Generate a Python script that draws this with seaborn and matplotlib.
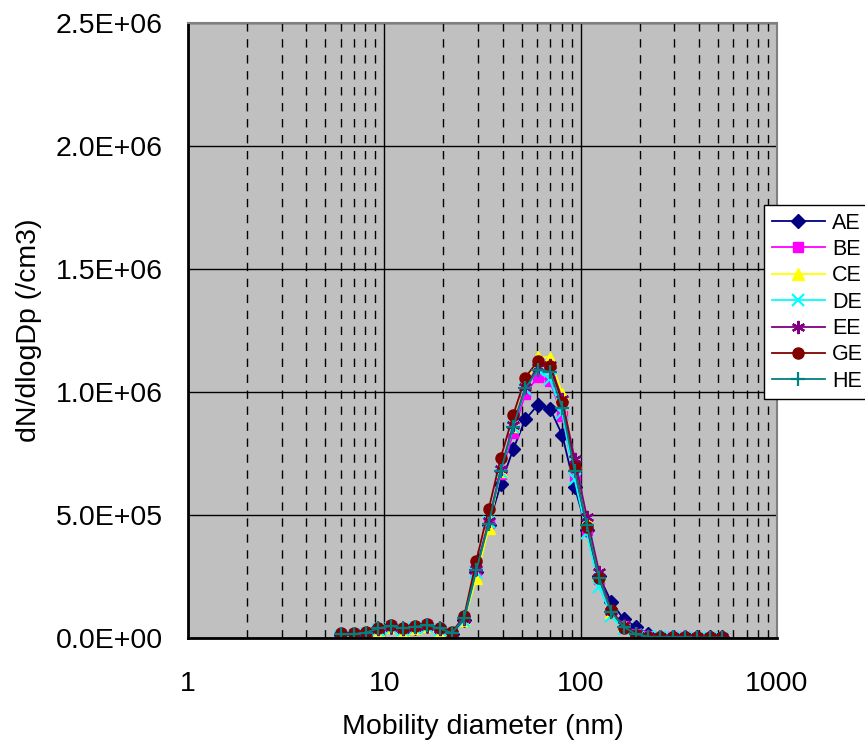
import numpy as np
import pandas as pd
import matplotlib
matplotlib.use('Agg')
import matplotlib.pyplot as plt
import seaborn as sns
from matplotlib.ticker import FuncFormatter, LogLocator, NullFormatter

# SMPS channel mid-point diameters (nm)
diameter = [6.04, 6.98, 8.06, 9.31, 10.8, 12.4, 14.3, 16.5, 19.1, 22.1, 25.5,
            29.4, 34.0, 39.2, 45.3, 52.3, 60.4, 69.8, 80.6, 93.1, 107.5, 124.1,
            143.3, 165.5, 191.1, 220.7, 254.8, 294.3, 339.8, 392.4, 453.2, 523.3]

# dN/dlogDp (/cm3) for each run
AE = [12000, 14000, 20000, 36000, 46000, 36000, 42000, 49000, 36000, 18000, 75000,
      270000, 460000, 625000, 766000, 888000, 946000, 932000, 824000, 614000, 440000, 250000,
      147000, 76000, 46000, 15000, 5000, 4000, 4000, 3000, 3000, 3000]
BE = [14000, 15000, 22000, 38000, 48000, 38000, 45000, 51000, 38000, 19000, 80000,
      276000, 468000, 665000, 832000, 993000, 1060000, 1045000, 900000, 660000, 440000, 240000,
      100000, 50000, 18000, 8000, 4000, 3000, 3000, 2000, 2000, 2000]
CE = [10000, 11000, 18000, 34000, 44000, 34000, 41000, 47000, 34000, 15000, 72000,
      242000, 445000, 680000, 860000, 1030000, 1142000, 1139000, 993000, 715000, 480000, 255000,
      105000, 52000, 20000, 8000, 4000, 3000, 2000, 2000, 2000, 2000]
DE = [9000, 10000, 17000, 32000, 42000, 33000, 39000, 45000, 32000, 14000, 70000,
      270000, 470000, 675000, 858000, 1013000, 1090000, 1050000, 914000, 645000, 425000, 208000,
      90000, 35000, 12000, 5000, 3000, 2000, 2000, 2000, 1000, 1000]
EE = [12000, 13000, 20000, 35000, 46000, 36000, 43000, 49000, 36000, 17000, 78000,
      280000, 475000, 685000, 865000, 1020000, 1100000, 1110000, 970000, 729000, 492000, 269000,
      110000, 52000, 20000, 9000, 5000, 4000, 3000, 3000, 3000, 3000]
GE = [19000, 19000, 26000, 42000, 53000, 42000, 49000, 56000, 42000, 23000, 89000,
      314000, 523000, 733000, 905000, 1058000, 1125000, 1104000, 959000, 695000, 452000, 242000,
      112000, 40000, 12000, 6000, 4000, 4000, 4000, 4000, 4000, 4000]
HE = [15000, 16000, 22000, 39000, 49000, 39000, 46000, 52000, 39000, 20000, 82000,
      275000, 465000, 680000, 858000, 1015000, 1090000, 1081000, 935000, 680000, 460000, 245000,
      105000, 45000, 16000, 6000, 3000, 3000, 3000, 2000, 2000, 2000]

runs = ['AE', 'BE', 'CE', 'DE', 'EE', 'GE', 'HE']
series = [AE, BE, CE, DE, EE, GE, HE]
colors = ['#000080', '#FF00FF', '#FFFF00', '#00FFFF', '#800080', '#800000', '#008080']
markers = ['D', 's', '^', 'x', (6, 2, 0), 'o', '+']
msizes = [7, 7, 8, 8.5, 9.5, 8, 10.5]

rows = []
for name, vals in zip(runs, series):
    for d, v in zip(diameter, vals):
        rows.append({'run': name, 'Dp': d, 'dN': v})
df = pd.DataFrame(rows)

plt.rcParams['font.family'] = ['Liberation Sans', 'DejaVu Sans']

fig = plt.figure(figsize=(8.65, 7.42), dpi=100)
ax = fig.add_axes([188 / 865, 1 - 638 / 742, (777 - 188) / 865, (638 - 22.5) / 742])
ax.set_facecolor('#C0C0C0')

for name, c, m, ms in zip(runs, colors, markers, msizes):
    sub = df[df['run'] == name]
    sns.lineplot(data=sub, x='Dp', y='dN', ax=ax, color=c, marker=m, markersize=ms,
                 markeredgecolor=c, markerfacecolor=c, markeredgewidth=1.6 if m in ['x', '+', (6, 2, 0)] else 1,
                 linewidth=1.3, label=name, sort=False, errorbar=None)

ax.set_xscale('log')
ax.set_xlim(1, 1000)
ax.set_ylim(0, 2.5e6)
ax.set_yticks(np.arange(0, 2.51e6, 0.5e6))
ax.yaxis.set_major_formatter(FuncFormatter(lambda v, p: f'{v:.1E}'))
ax.set_xticks([1, 10, 100, 1000])
ax.xaxis.set_major_formatter(FuncFormatter(lambda v, p: f'{v:g}'))
ax.xaxis.set_minor_locator(LogLocator(base=10, subs=np.arange(2, 10)))
ax.xaxis.set_minor_formatter(NullFormatter())

ax.grid(True, which='major', axis='both', color='black', linewidth=1)
ax.grid(True, which='minor', axis='x', color='black', linewidth=1, linestyle=(0, (6, 5.5)))
ax.set_axisbelow(True)

ax.tick_params(axis='both', which='both', length=0, labelsize=20.5)
ax.tick_params(axis='y', pad=18)
ax.tick_params(axis='x', pad=24)

for side in ['top', 'right']:
    ax.spines[side].set_color('#808080')
    ax.spines[side].set_linewidth(1.5)
for side in ['left', 'bottom']:
    ax.spines[side].set_color('black')
    ax.spines[side].set_linewidth(2)

ax.set_xlabel('Mobility diameter (nm)', fontsize=20.5, labelpad=12)
ax.set_ylabel('dN/dlogDp (/cm3)', fontsize=20.5, labelpad=10)

leg = ax.legend(loc='upper left', bbox_to_anchor=(764 / 865, 1 - 205 / 742),
                bbox_transform=fig.transFigure, fontsize=15.5, frameon=True,
                fancybox=False, edgecolor='black', framealpha=1, borderaxespad=0,
                handlelength=2.5, labelspacing=0.25, borderpad=0.35, handletextpad=0.3)
leg.get_frame().set_linewidth(1)

fig.savefig('out.png', dpi=100, facecolor='white')
